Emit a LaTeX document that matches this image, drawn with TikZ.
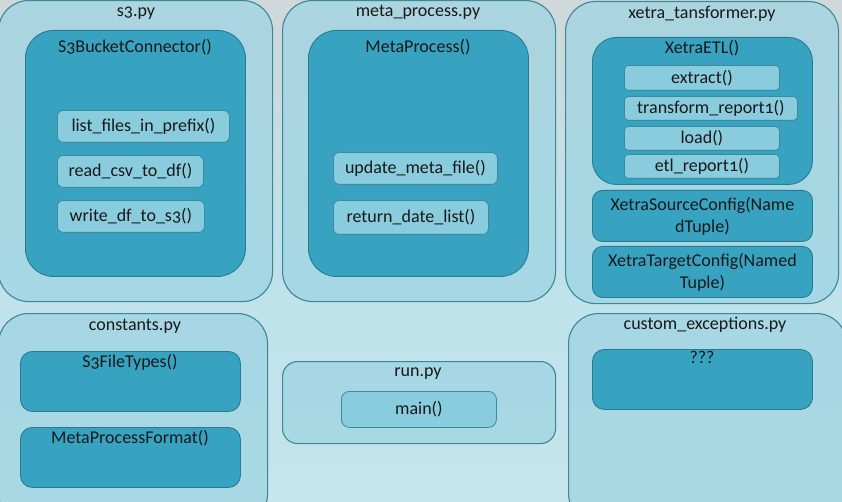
\documentclass[tikz,border=0pt]{standalone}
\usepackage{fontspec}
\setmainfont[Numbers=OldStyle]{Carlito}
\usetikzlibrary{positioning}
\definecolor{bgtop}{HTML}{D0D8DA}
\definecolor{bgmid}{HTML}{BDE1EA}
\definecolor{bgbot}{HTML}{C6E5ED}
\definecolor{fileFill}{HTML}{9FD4E2}
\definecolor{fileLine}{HTML}{3E8799}
\definecolor{classFill}{HTML}{38A3C1}
\definecolor{classLine}{HTML}{2A7A91}
\definecolor{funcFill}{HTML}{88CCDD}
\definecolor{funcLine}{HTML}{3A8AA0}
\tikzset{
  every node/.style={font=\fontsize{18}{22}\selectfont, text=black!90},
  filebox/.style={draw=fileLine, fill=fileFill, fill opacity=0.75, text opacity=1,
    line width=1.1pt, rounded corners=30pt, anchor=north west, inner sep=0pt},
  classbox/.style={draw=classLine, fill=classFill, line width=0.9pt,
    rounded corners=28pt, anchor=north west, inner sep=0pt},
  funcbox/.style={draw=funcLine, fill=funcFill, line width=0.8pt,
    rounded corners=6pt, anchor=north west, inner sep=0pt},
  title/.style={anchor=base, inner sep=0pt},
}
\begin{document}
\begin{tikzpicture}[x=1pt, y=-1pt]
\useasboundingbox (0,0) rectangle (842,502);
\shade [top color=bgtop, bottom color=bgbot, middle color=bgmid] (0,0) rectangle (842,502);
%
% s3.py
\node [filebox, minimum width=274, minimum height=301] (s3file) at (-2,0) {};
\path (136,17) node[title] (s3name) {s3.py};
\node [classbox, minimum width=220, minimum height=246] (s3class) at (25,30) {};
\path (135,53) node[title] (s3classname) {S3BucketConnector()};
\node [funcbox, minimum width=172, minimum height=32] (listfiles) at (57,110) {};
\node at (listfiles.center) (listfilest) {list\_files\_in\_prefix()};
\node [funcbox, minimum width=146, minimum height=32] (readcsv) at (57,155) {};
\node at (readcsv.center) (readcsvt) {read\_csv\_to\_df()};
\node [funcbox, minimum width=147, minimum height=32] (writedf) at (57,200) {};
\node at (writedf.center) (writedft) {write\_df\_to\_s3()};
%
% meta_process.py
\node [filebox, minimum width=273, minimum height=301] (metafile) at (282,0) {};
\path (418,17) node[title] (metaname) {meta\_process.py};
\node [classbox, minimum width=220, minimum height=246] (metaclass) at (308,30) {};
\path (418,53) node[title] (metaclassname) {MetaProcess()};
\node [funcbox, minimum width=164, minimum height=32] (updatemeta) at (333,152) {};
\node at (updatemeta.center) (updatemetat) {update\_meta\_file()};
\node [funcbox, minimum width=155, minimum height=34] (returndate) at (333,200) {};
\node at (returndate.center) (returndatet) {return\_date\_list()};
%
% xetra_tansformer.py
\node [filebox, minimum width=273, minimum height=302] (xetrafile) at (565,1) {};
\path (702,19) node[title] (xetraname) {xetra\_tansformer.py};
\node [classbox, rounded corners=24pt, minimum width=220, minimum height=147] (etlclass) at (592,37) {};
\path (702,54) node[title] (etlclassname) {XetraETL()};
\node [funcbox, rounded corners=4pt, minimum width=155, minimum height=25] (extract) at (624,65) {};
\node at (extract.center) (extractt) {extract()};
\node [funcbox, rounded corners=4pt, minimum width=173, minimum height=24] (transform) at (624,96) {};
\node at (transform.center) (transformt) {transform\_report1()};
\node [funcbox, rounded corners=4pt, minimum width=155, minimum height=24] (load) at (624,126) {};
\node at (load.center) (loadt) {load()};
\node [funcbox, rounded corners=4pt, minimum width=155, minimum height=24] (etlreport) at (624,154) {};
\node at (etlreport.center) (etlreportt) {etl\_report1()};
\node [classbox, rounded corners=10pt, minimum width=220, minimum height=51] (sourceconf) at (592,190) {};
\node [align=center] at (sourceconf.center) (sourceconft) {XetraSourceConfig(Name\\dTuple)};
\node [classbox, rounded corners=10pt, minimum width=220, minimum height=51] (targetconf) at (592,246) {};
\node [align=center] at (targetconf.center) (targetconft) {XetraTargetConfig(Named\\Tuple)};
%
% constants.py
\node [filebox, minimum width=269, minimum height=210] (constfile) at (-2,313) {};
\path (135,330) node[title] (constname) {constants.py};
\node [classbox, rounded corners=12pt, minimum width=220, minimum height=60] (filetypes) at (20,351) {};
\path (130,367) node[title] (filetypesname) {S3FileTypes()};
\node [classbox, rounded corners=12pt, minimum width=220, minimum height=60] (metaformat) at (20,427) {};
\path (130,443) node[title] (metaformatname) {MetaProcessFormat()};
%
% run.py
\node [filebox, rounded corners=15pt, minimum width=273, minimum height=82] (runfile) at (282,361) {};
\path (418,376) node[title] (runname) {run.py};
\node [funcbox, rounded corners=8pt, minimum width=155, minimum height=36] (mainfunc) at (341,391) {};
\node at (mainfunc.center) (mainfunct) {main()};
%
% custom_exceptions.py
\node [filebox, minimum width=278, minimum height=210] (excfile) at (568,313) {};
\path (705,329) node[title] (excname) {custom\_exceptions.py};
\node [classbox, rounded corners=12pt, minimum width=220, minimum height=60] (excclass) at (592,349) {};
\path (702,363) node[title] (excclassname) {???};
\end{tikzpicture}
\end{document}
